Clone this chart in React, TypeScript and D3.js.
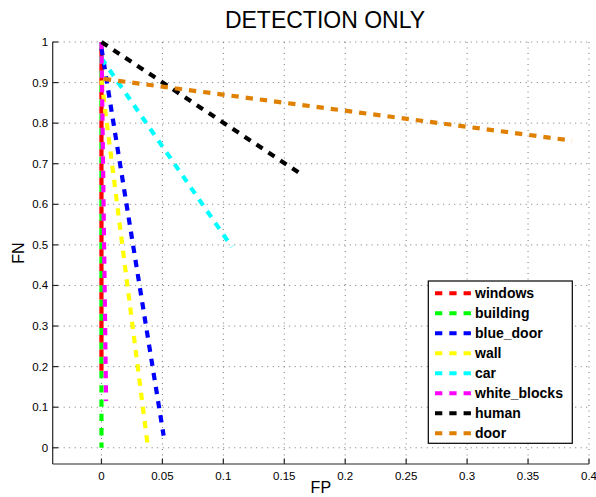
import React from "react";
import * as d3 from "d3";

const W = 596;
const H = 497;

const seriesNames = ["windows", "building", "blue_door", "wall", "car", "white_blocks", "human", "door"];
const seriesColors = ["#ff0000", "#00ff00", "#0000ff", "#ffff00", "#00ffff", "#ff00ff", "#000000", "#e08000"];
// FP values per series
const windowsFP = [0, 0];
const buildingFP = [0, 0];
const blueDoorFP = [0, 0.051];
const wallFP = [0, 0.0382];
const carFP = [0, 0.107];
const whiteBlocksFP = [0, 0.0038];
const humanFP = [0, 0.165];
const doorFP = [0.002, 0.386];
// FN values per series
const windowsFN = [1, 0.19];
const buildingFN = [1, 0];
const blueDoorFN = [0.985, 0.03];
const wallFN = [0.905, 0.0];
const carFN = [0.96, 0.495];
const whiteBlocksFN = [1, 0.115];
const humanFN = [1, 0.672];
const doorFN = [0.909, 0.757];

const xTicks = [0, 0.05, 0.1, 0.15, 0.2, 0.25, 0.3, 0.35, 0.4];
const xTickLabels = ["0", "0.05", "0.1", "0.15", "0.2", "0.25", "0.3", "0.35", "0.4"];
const yTicks = [0, 0.1, 0.2, 0.3, 0.4, 0.5, 0.6, 0.7, 0.8, 0.9, 1];
const yTickLabels = ["0", "0.1", "0.2", "0.3", "0.4", "0.5", "0.6", "0.7", "0.8", "0.9", "1"];

const titleText = "DETECTION ONLY";
const xLabel = "FP";
const yLabel = "FN";

const FONT = "'Liberation Sans', Arial, Helvetica, sans-serif";

export default function App() {
  const left = 52.7, right = 589, top = 42, bottom = 464;
  const x = d3.scaleLinear().domain([-0.04, 0.4]).range([left, right]);
  const y = d3.scaleLinear().domain([-0.04, 1]).range([bottom, top]);

  const fps = [windowsFP, buildingFP, blueDoorFP, wallFP, carFP, whiteBlocksFP, humanFP, doorFP];
  const fns = [windowsFN, buildingFN, blueDoorFN, wallFN, carFN, whiteBlocksFN, humanFN, doorFN];
  const series = seriesNames.map((name, i) => ({
    name,
    color: seriesColors[i],
    pts: fps[i].map((v, j) => [v, fns[i][j]] as [number, number]),
  }));
  const line = d3.line<[number, number]>().x(d => x(d[0])).y(d => y(d[1]));

  const gridColor = "#777";
  const axisColor = "#262626";

  const legX = 428.3, legY = 281, legW = 144, legH = 162.3;
  const legRow0 = 293.3, legStep = 20;

  // draw building first so windows (red) interleaves on top of it
  const drawOrder = [1, 0, 2, 3, 4, 5, 6, 7];

  return (
    <svg width={W} height={H} style={{ position: "absolute", left: 0, top: 0, background: "#fff" }} fontFamily={FONT}>
      <rect x={0} y={0} width={W} height={H} fill="#fff" />
      {/* grid */}
      {xTicks.map((t, i) => (
        <line key={"gx" + i} x1={x(t)} x2={x(t)} y1={top} y2={bottom} stroke={gridColor} strokeWidth={1} strokeDasharray="1,4.5" />
      ))}
      {yTicks.map((t, i) => (
        <line key={"gy" + i} x1={left} x2={right} y1={y(t)} y2={y(t)} stroke={gridColor} strokeWidth={1} strokeDasharray="1,4.5" />
      ))}
      {/* axes */}
      <line x1={left} x2={left} y1={top} y2={bottom} stroke={axisColor} strokeWidth={1.2} />
      <line x1={left} x2={right} y1={bottom} y2={bottom} stroke={axisColor} strokeWidth={1.2} />
      {yTicks.map((t, i) => (
        <g key={"ty" + i}>
          <line x1={left} x2={left + 5.5} y1={y(t)} y2={y(t)} stroke={axisColor} strokeWidth={1.2} />
          <text x={left - 4.5} y={y(t)} dy="0.35em" textAnchor="end" fontSize={11.5} fill="#000">{yTickLabels[i]}</text>
        </g>
      ))}
      {xTicks.map((t, i) => (
        <g key={"tx" + i}>
          <line x1={x(t)} x2={x(t)} y1={bottom} y2={bottom - 5.5} stroke={axisColor} strokeWidth={1.2} />
          <text x={x(t)} y={480} textAnchor="middle" fontSize={11.5} fill="#000">{xTickLabels[i]}</text>
        </g>
      ))}
      {/* data */}
      {drawOrder.map(k => {
        const s = series[k];
        return (
          <path key={s.name} d={line(s.pts) || ""} fill="none" stroke={s.color} strokeWidth={4.2}
            strokeDasharray="7.3,7" strokeDashoffset={k === 0 ? 7.2 : 0} />
        );
      })}
      {/* title and labels */}
      <text x={325} y={28} textAnchor="middle" fontSize={23} fill="#000">{titleText}</text>
      <text x={(left + right) / 2} y={493} textAnchor="middle" fontSize={16} fill="#000">{xLabel}</text>
      <text transform={`translate(24, ${(top + bottom) / 2}) rotate(-90)`} textAnchor="middle" fontSize={16} fill="#000">{yLabel}</text>
      {/* legend */}
      <rect x={legX} y={legY} width={legW} height={legH} fill="#fff" stroke="#000" strokeWidth={1.2} />
      {series.map((s, i) => (
        <g key={"leg" + s.name}>
          <line x1={435} x2={471} y1={legRow0 + i * legStep} y2={legRow0 + i * legStep} stroke={s.color} strokeWidth={4} strokeDasharray="7.3,7" />
          <text x={475} y={legRow0 + i * legStep} dy="0.36em" fontSize={14} fontWeight="bold" fill="#000">{s.name}</text>
        </g>
      ))}
    </svg>
  );
}
